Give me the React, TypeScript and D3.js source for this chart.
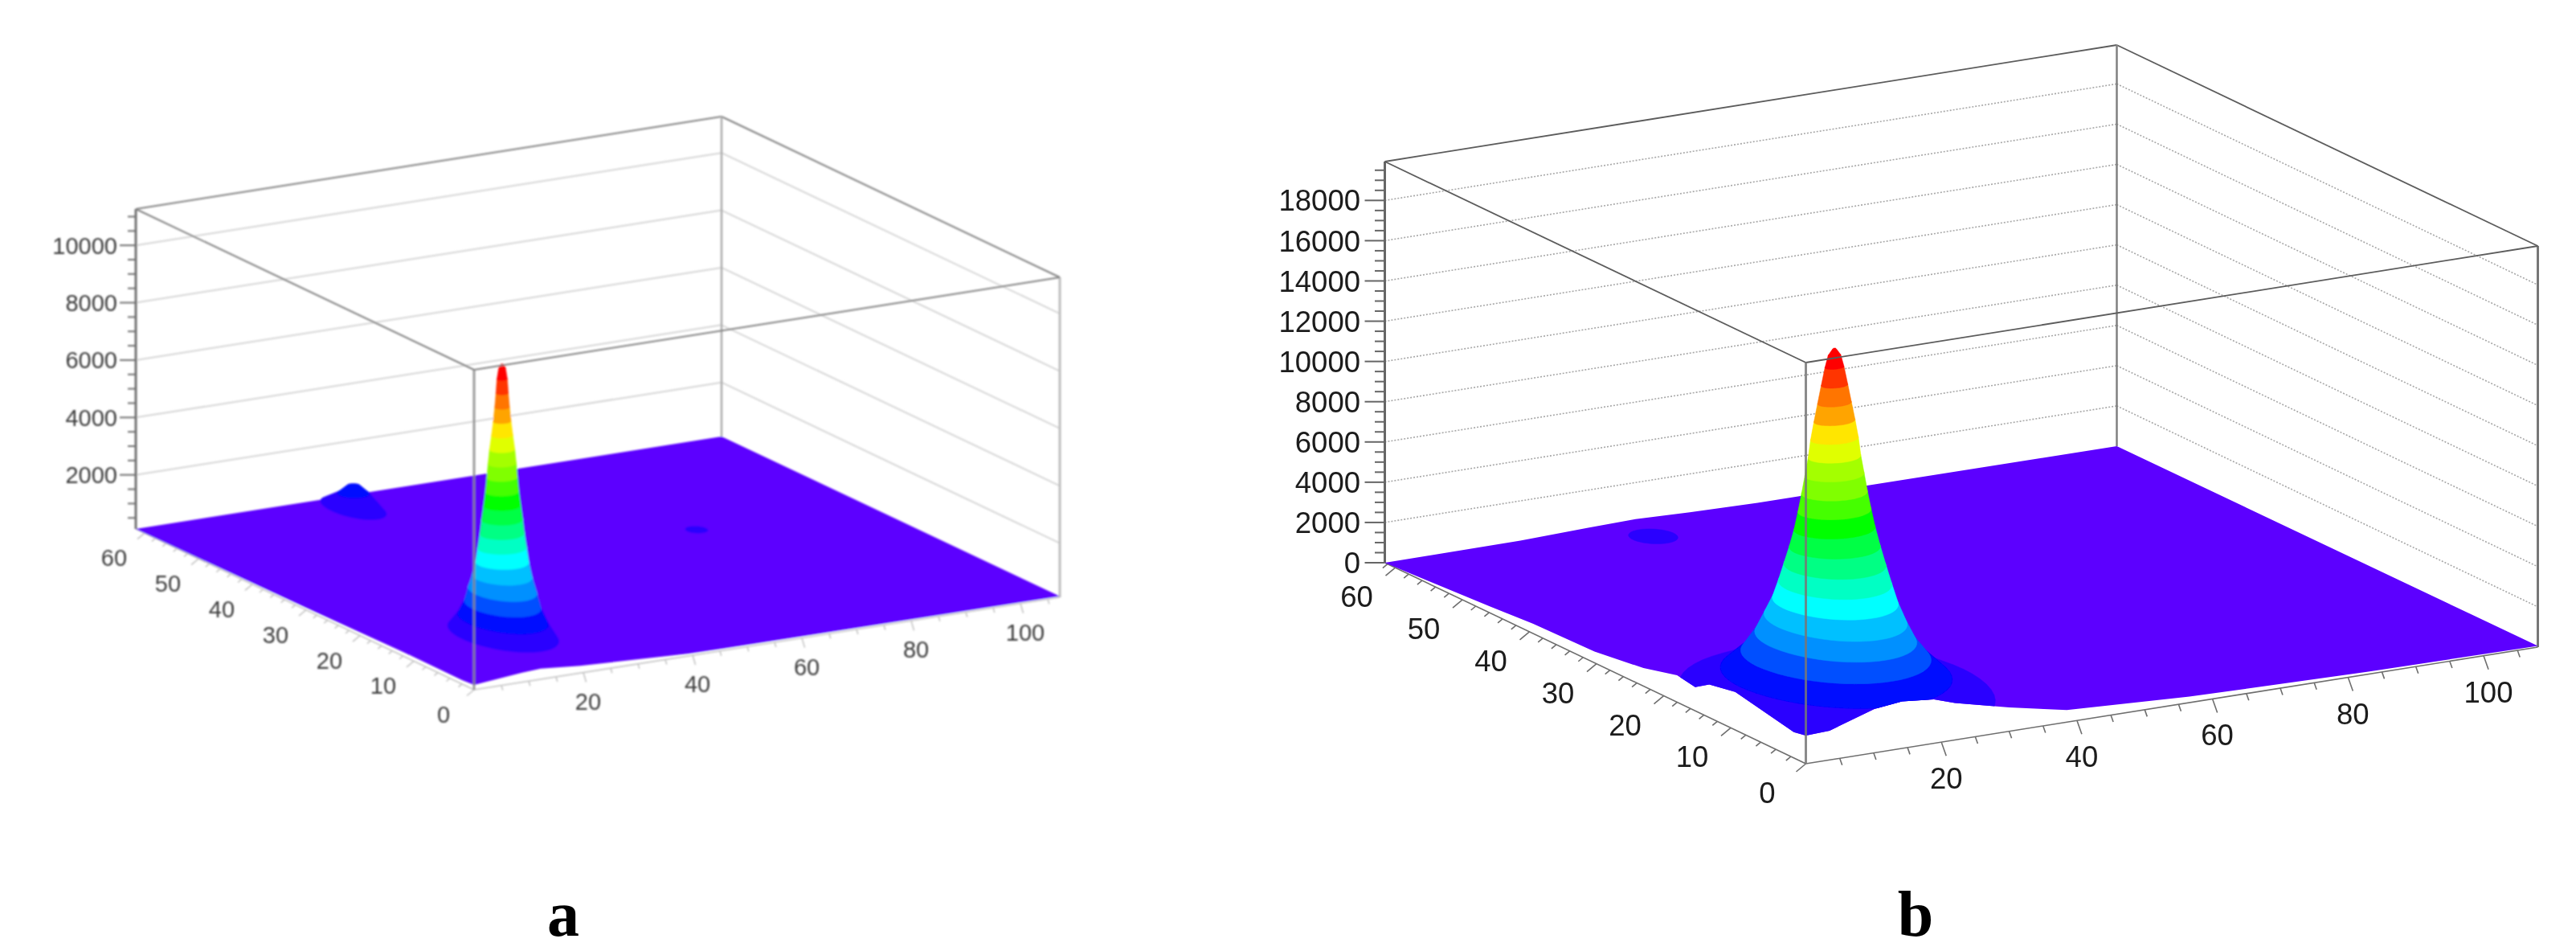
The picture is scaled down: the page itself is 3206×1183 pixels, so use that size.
import React from 'react';
import * as d3 from 'd3';

// rainbow contour palette, floor colour first
const contourColors = [
  '#5c00ff', '#2c00ff', '#0008ff', '#0050ff', '#0090ff', '#00c0ff', '#00ffff', '#00ffc4', '#00ff84', '#00ff44',
  '#00ff00', '#44ff00', '#80ff00', '#a4ff00', '#e0ff00', '#ffe600', '#ffa400', '#ff7400', '#ff3400', '#ff0000',
];

const xMajorTicks = [20, 40, 60, 80, 100];
const yMajorTicks = [0, 10, 20, 30, 40, 50, 60];
const zMajorTicksA = [2000, 4000, 6000, 8000, 10000];
const zMajorTicksB = [0, 2000, 4000, 6000, 8000, 10000, 12000, 14000, 16000, 18000];

// panel a: contour rings of the main peak (level, radius along x, radius along y)
const peakLevelsA = [490, 980, 1470, 1960, 2450, 2940, 3430, 3920, 4410, 4900, 5390, 5880, 6370, 6860, 7350, 7840, 8330, 8820, 9310, 9700, 9835];
const peakRxA = [7.4, 6.2, 5.4, 4.9, 4.5, 4.2, 3.95, 3.6, 3.3, 3.0, 2.7, 2.5, 2.3, 2.05, 1.75, 1.45, 1.2, 1.0, 0.85, 0.55, 0.2];
const peakRyA = [6.8, 5.4, 4.4, 3.9, 3.1, 2.5, 2.1, 1.9, 1.8, 1.6, 1.45, 1.3, 1.2, 1.1, 0.9, 0.75, 0.65, 0.55, 0.45, 0.3, 0.1];
const bumpLevelsA = [490, 980, 1265];
const bumpRxA = [4.0, 2.5, 1.0];
const bumpRyA = [4.6, 1.6, 0.6];
const spotLevelsA = [300];
const spotRxA = [1.7];
const spotRyA = [1.2];

// panel a: surface outline heights
const frontXA = [0, 8.8, 12.2, 19.4, 39.4, 45.6, 107.2];
const frontZA = [285, 445, 485, 367, 190, 180, 150];
const sideYA = [0, 2, 12, 30, 50, 61.5];
const sideZA = [285, 255, 255, 190, 140, 115];
const backXA = [0, 107.2];
const backZA = [115, 115];

// panel b
const peakLevelsB = [890, 1780, 2670, 3560, 4450, 5340, 6230, 7120, 8010, 8900, 9790, 10680, 11570, 12460, 13350, 14240, 15130, 16020, 16910, 17500, 17840];
const peakRxB = [19, 14, 11.5, 9.6, 8.4, 7.6, 7, 6.4, 5.9, 5.4, 4.9, 4.4, 4, 3.55, 3.25, 2.8, 2.3, 1.8, 1.3, 0.85, 0.2];
const peakRyB = [13, 9.5, 7.8, 6.9, 6.2, 5.2, 4.5, 3.9, 3.2, 2.6, 2.3, 2.1, 1.8, 1.6, 1.4, 1.2, 1, 0.8, 0.55, 0.4, 0.1];
const spotLevelsB = [300];
const spotRxB = [3];
const spotRyB = [2.1];

const frontXB = [0, 3.5, 10.1, 14.2, 18.9, 22, 30, 38.5, 56.6, 83, 108];
const frontZB = [1400, 1450, 2176, 2336, 2184, 1836, 1190, 600, 296, 120, 60];
const sideYB = [0, 1.6, 9.4, 13.2, 15.3, 18, 23, 30.3, 39.5, 46, 62];
const sideZB = [1400, 1280, 1890, 1640, 1176, 1336, 900, 560, 480, 320, 0];
const backXB = [0, 20, 30, 37, 45, 55, 108];
const backZB = [0, 30, 130, 180, 90, 30, 0];

const panels = [
  {
    id: 'a',
    origin: [590, 858], xVec: [729, -115], yVec: [-421, -200], height: 398,
    xMax: 107.2, yDomain: [0, 10, 60, 61.5], yStops: [0, 75, 410, 421].map(d => d / 421),
    zDomain: [115, 11265], zTicks: zMajorTicksA, zMinorStep: 500,
    peak: { x: 17.35, y: 11.2, levels: peakLevelsA, rx: peakRxA, ry: peakRyA },
    bump: { x: 33, y: 54.7, levels: bumpLevelsA, rx: bumpRxA, ry: bumpRyA },
    spot: { x: 75.3, y: 33.9, levels: spotLevelsA, rx: spotRxA, ry: spotRyA },
    frontX: frontXA, frontZ: frontZA, sideY: sideYA, sideZ: sideZA, backX: backXA, backZ: backZA,
    fontSize: 29, text: '#3c3c3c', zLabelX: 146, zTick: 20,
    xTick: [3.5, 12], yTick: [-9, 7.5], xLabel: [6, 46], yLabel: [-38, 41],
    box: '#828282', axis: '#707070', front: '#8a8a8a', right: '#bdbdbd', back: '#ababab', base: '#c4c4c4',
    grid: '#d6d6d6', gridDash: undefined, gridWidth: 2, boxWidth: 2,
    blur: 0.9, letterX: 701,
  },
  {
    id: 'b',
    origin: [2247.5, 950], xVec: [911, -145], yVec: [-524, -250], height: 499,
    xMax: 108, yDomain: [0, 10, 60, 62.7], yStops: [0, 93.5, 511, 524].map(d => d / 524),
    zDomain: [0, 19930], zTicks: zMajorTicksB, zMinorStep: 500,
    peak: { x: 16.2, y: 10.9, levels: peakLevelsB, rx: peakRxB, ry: peakRyB },
    bump: null,
    spot: { x: 34.4, y: 56.3, levels: spotLevelsB, rx: spotRxB, ry: spotRyB },
    frontX: frontXB, frontZ: frontZB, sideY: sideYB, sideZ: sideZB, backX: backXB, backZ: backZB,
    fontSize: 36.5, text: '#1a1a1a', zLabelX: 1693, zTick: 25,
    xTick: [6, 17], yTick: [-12, 10], xLabel: [6, 58], yLabel: [-48, 49],
    box: '#5c5c5c', axis: '#666666', front: '#777777', right: '#777777', back: '#808080', base: '#6e6e6e',
    grid: '#a8a8a8', gridDash: '2 2', gridWidth: 1.6, boxWidth: 1.8,
    blur: 0.5, letterX: 2384,
  },
];

type Panel = (typeof panels)[number];
type Pt = [number, number];

const line = d3.line<Pt>();
const angles = d3.range(0, 2 * Math.PI, Math.PI / 30);

function Chart({ p }: { p: Panel }) {
  const xs = d3.scaleLinear().domain([0, p.xMax]).range([0, 1]);
  const ys = d3.scaleLinear().domain(p.yDomain).range(p.yStops);
  const zs = d3.scaleLinear().domain(p.zDomain).range([0, 1]);

  const project = (x: number, y: number, z: number): Pt => [
    p.origin[0] + xs(x) * p.xVec[0] + ys(y) * p.yVec[0],
    p.origin[1] + xs(x) * p.xVec[1] + ys(y) * p.yVec[1] - zs(z) * p.height,
  ];

  const [zMin, zMax] = p.zDomain;
  const yMax = p.yDomain[p.yDomain.length - 1];
  const xMax = p.xMax;
  const seg = (a: Pt, b: Pt, stroke: string, width: number, dash?: string, key?: string) => (
    <line key={key} x1={a[0]} y1={a[1]} x2={b[0]} y2={b[1]} stroke={stroke} strokeWidth={width} strokeDasharray={dash} />
  );

  // surface outline: side edge, front edge, back edge
  const side = p.sideY.map((y, i) => project(0, y, p.sideZ[i])).reverse();
  const front = p.frontX.map((x, i) => project(x, 0, p.frontZ[i]));
  const back = p.backX.map((x, i) => project(x, yMax, p.backZ[i])).reverse();
  const outline = [...side, ...front, ...back];
  const clipShape: Pt[] = [...side, ...front, [front[front.length - 1][0], 0], [side[0][0], 0]];

  const ring = (h: { x: number; y: number; rx: number[]; ry: number[]; levels: number[] }, i: number): Pt[] =>
    angles.map(t => project(h.x + h.rx[i] * Math.cos(t), h.y + h.ry[i] * Math.sin(t), h.levels[i]));

  // one band per pair of contour rings, painted from the bottom up
  const hill = (h: { x: number; y: number; rx: number[]; ry: number[]; levels: number[] }, name: string) =>
    h.levels.map((_, i) => {
      const last = i + 1 === h.levels.length;
      if (last && i > 0) return null;
      const pts = last ? ring(h, i) : [...ring(h, i), ...ring(h, i + 1)];
      const hull = d3.polygonHull(pts) as Pt[];
      const colour = contourColors[Math.min(i + 1, contourColors.length - 1)];
      return <path key={name + i} d={line(hull) + 'Z'} fill={colour} stroke={colour} strokeWidth={0.5} />;
    });

  const minorZ = d3.range(zMin <= 0 ? 0 : p.zMinorStep, zMax, p.zMinorStep);
  const minorX = d3.range(0, xMax, 5);
  const minorY = d3.range(0, yMax, 2);
  const clipId = 'edge-' + p.id;

  return (
    <g filter={`url(#soft-${p.id})`}>
      <defs>
        <clipPath id={clipId}>
          <path d={line(clipShape) + 'Z'} />
        </clipPath>
        <filter id={`soft-${p.id}`} x="-5%" y="-5%" width="110%" height="110%">
          <feGaussianBlur stdDeviation={p.blur} />
        </filter>
      </defs>

      {/* wall grid */}
      {p.zTicks.filter(v => v > zMin).map(v => (
        <g key={'grid' + v}>
          {seg(project(0, yMax, v), project(xMax, yMax, v), p.grid, p.gridWidth, p.gridDash)}
          {seg(project(xMax, yMax, v), project(xMax, 0, v), p.grid, p.gridWidth, p.gridDash)}
        </g>
      ))}

      {/* back of the box */}
      {seg(project(0, yMax, zMax), project(xMax, yMax, zMax), p.box, p.boxWidth)}
      {seg(project(xMax, yMax, zMax), project(xMax, 0, zMax), p.box, p.boxWidth)}
      {seg(project(xMax, yMax, zMin), project(xMax, yMax, zMax), p.back, 2.5)}
      {seg(project(xMax, 0, zMin), project(xMax, 0, zMax), p.right, 3)}
      {seg(project(0, 0, zMin), project(xMax, 0, zMin), p.base, 1.6)}
      {seg(project(0, 0, zMin), project(0, yMax, zMin), p.base, 1.6)}

      {/* ticks */}
      {minorX.map(v => {
        const a = project(v, 0, zMin);
        const k = v % 20 === 0 ? 1 : 0.5;
        return v > 0 ? seg(a, [a[0] + p.xTick[0] * k, a[1] + p.xTick[1] * k], p.base, 1.6, undefined, 'xt' + v) : null;
      })}
      {minorY.map(v => {
        const a = project(0, v, zMin);
        const k = v % 10 === 0 ? 1 : 0.5;
        return seg(a, [a[0] + p.yTick[0] * k, a[1] + p.yTick[1] * k], p.base, 1.6, undefined, 'yt' + v);
      })}
      {minorZ.map(v => {
        const a = project(0, yMax, v);
        const k = v % 2000 === 0 ? 1 : 0.5;
        return seg(a, [a[0] - p.zTick * k, a[1]], p.axis, 2, undefined, 'zt' + v);
      })}
      {seg(project(0, yMax, zMin), project(0, yMax, zMax), p.axis, 3)}

      {/* surface */}
      <path d={line(outline) + 'Z'} fill={contourColors[0]} />
      <g clipPath={`url(#${clipId})`}>
        {p.spot && hill(p.spot, 'spot')}
        {p.bump && hill(p.bump, 'bump')}
        {hill(p.peak, 'peak')}
      </g>

      {/* front of the box, over the surface */}
      {seg(project(0, yMax, zMax), project(0, 0, zMax), p.box, p.boxWidth)}
      {seg(project(0, 0, zMax), project(xMax, 0, zMax), p.box, p.boxWidth)}
      <g opacity={0.85}>{seg(project(0, 0, zMin), project(0, 0, zMax), p.front, 3)}</g>

      {/* labels */}
      <g fontFamily="'Liberation Sans', sans-serif" fontSize={p.fontSize} fill={p.text}>
        {p.zTicks.map(v => (
          <text key={'zl' + v} x={p.zLabelX} y={project(0, yMax, v)[1]} dy="0.36em" textAnchor="end">{v}</text>
        ))}
        {xMajorTicks.map(v => {
          const a = project(v, 0, zMin);
          return <text key={'xl' + v} x={a[0] + p.xLabel[0]} y={a[1] + p.xLabel[1]} textAnchor="middle">{v}</text>;
        })}
        {yMajorTicks.map(v => {
          const a = project(0, v, zMin);
          return <text key={'yl' + v} x={a[0] + p.yLabel[0]} y={a[1] + p.yLabel[1]} textAnchor="middle">{v}</text>;
        })}
      </g>
    </g>
  );
}

export default function App() {
  return (
    <svg width={3206} height={1183} style={{ position: 'absolute', left: 0, top: 0, background: '#fff' }}>
      {panels.map(p => (
        <g key={p.id}>
          <Chart p={p} />
          <text x={p.letterX} y={1164} textAnchor="middle" fontFamily="'Liberation Serif', serif" fontWeight="bold" fontSize={80} fill="#000">{p.id}</text>
        </g>
      ))}
    </svg>
  );
}
